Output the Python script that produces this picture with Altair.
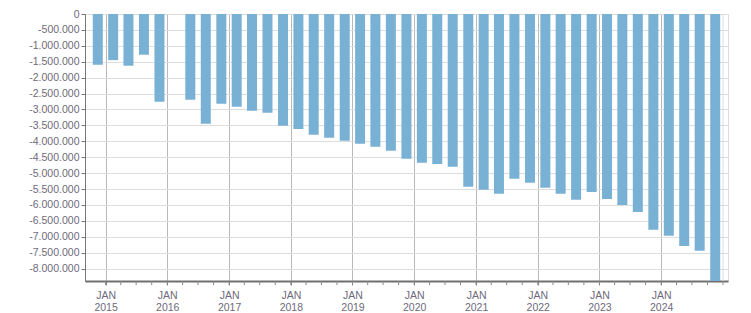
import altair as alt
import pandas as pd

# Quarter of each bar (Q1 2016 has no value)
quarters = [
    "2014Q4", "2015Q1", "2015Q2", "2015Q3", "2015Q4",
    "2016Q2", "2016Q3", "2016Q4",
    "2017Q1", "2017Q2", "2017Q3", "2017Q4",
    "2018Q1", "2018Q2", "2018Q3", "2018Q4",
    "2019Q1", "2019Q2", "2019Q3", "2019Q4",
    "2020Q1", "2020Q2", "2020Q3", "2020Q4",
    "2021Q1", "2021Q2", "2021Q3", "2021Q4",
    "2022Q1", "2022Q2", "2022Q3", "2022Q4",
    "2023Q1", "2023Q2", "2023Q3", "2023Q4",
    "2024Q1", "2024Q2", "2024Q3", "2024Q4",
]
values = [
    -1595000, -1450000, -1625000, -1280000, -2760000,
    -2695000, -3450000, -2820000,
    -2915000, -3040000, -3100000, -3510000,
    -3610000, -3795000, -3890000, -3980000,
    -4080000, -4170000, -4300000, -4550000,
    -4675000, -4710000, -4800000, -5430000,
    -5525000, -5650000, -5180000, -5305000,
    -5460000, -5650000, -5840000, -5590000,
    -5810000, -6000000, -6220000, -6780000,
    -6970000, -7290000, -7440000, -8390000,
]
year_labels = list(range(2015, 2025))
y_ticks = list(range(-8000000, 1, 500000))
axis_start = "2014Q4"
axis_end = "2025Q1"


def q_start(q):
    y = int(q[:4])
    n = int(q[-1])
    return pd.Timestamp(year=y, month=3 * (n - 1) + 1, day=1, tz="UTC")


def q_next(q):
    y = int(q[:4])
    n = int(q[-1])
    return f"{y + 1}Q1" if n == 4 else f"{y}Q{n + 1}"


def ms(ts):
    return int(ts.timestamp() * 1000)


mids = []
for q in quarters:
    s = q_start(q)
    e = q_start(q_next(q))
    mids.append(ms(s + (e - s) / 2))

df = pd.DataFrame({"quarter": quarters, "mid": mids, "value": values})

# quarter tick positions along the x axis
tick_q = []
q = axis_start
while q != axis_end:
    tick_q.append(ms(q_start(q)))
    q = q_next(q)
tick_q.append(ms(q_start(axis_end)))
ticks_df = pd.DataFrame({"t": tick_q[1:]})

year_ms = [ms(pd.Timestamp(year=y, month=1, day=1, tz="UTC")) for y in year_labels]

W, H = 643, 267
FONT = "Liberation Sans"
LBL = "#6e6a7c"

xs = alt.Scale(type="utc", domain=[ms(q_start(axis_start)), ms(q_start(axis_end))])
ys = alt.Scale(domain=[min(values), 0], nice=False, zero=False)

bars = alt.Chart(df).mark_bar(width=10, color="#78b1d4").encode(
    x=alt.X(
        "mid:T",
        scale=xs,
        title=None,
        axis=alt.Axis(
            values=year_ms,
            labelExpr="['JAN', utcFormat(datum.value, '%Y')]",
            labelFont=FONT,
            labelFontSize=10.5,
            labelColor=LBL,
            labelLineHeight=12,
            labelPadding=5,
            labelFlush=False,
            labelOverlap=False,
            tickSize=4,
            tickColor="#888888",
            domainColor="#707070",
            domainWidth=2,
            grid=True,
            gridColor="#b8b8b8",
            gridWidth=1,
        ),
    ),
    y=alt.Y(
        "value:Q",
        scale=ys,
        title=None,
        axis=alt.Axis(
            values=y_ticks,
            format=",d",
            labelFont=FONT,
            labelFontSize=10.5,
            labelColor=LBL,
            labelPadding=2,
            labelOverlap=False,
            labelFlush=False,
            tickSize=4,
            tickColor="#777777",
            domainColor="#777777",
            grid=True,
            gridColor="#dddddd",
            gridWidth=1,
        ),
    ),
)

qticks = alt.Chart(ticks_df).mark_rule(color="#888888", strokeWidth=1).encode(
    x=alt.X("t:T", scale=xs),
    y=alt.value(H),
    y2=alt.value(H + 4),
)

right_border = alt.Chart(pd.DataFrame({"t": [ms(q_start(axis_end))]})).mark_rule(
    color="#dddddd", strokeWidth=1
).encode(x=alt.X("t:T", scale=xs), y=alt.value(0), y2=alt.value(H))

chart = (
    alt.layer(right_border, bars, qticks)
    .properties(
        width=W,
        height=H,
        autosize=alt.AutoSizeParams(type="none"),
        padding={"left": 85, "top": 14, "right": 751 - 85 - W, "bottom": 313 - 14 - H},
    )
    .configure_view(stroke=None)
    .configure(
        locale=alt.Locale(
            number=alt.NumberLocale(
                decimal=",", thousands=".", grouping=[3], currency=["", " €"], minus="-"
            )
        )
    )
)

chart.save("out.html", embed_options={"renderer": "svg", "actions": False})
